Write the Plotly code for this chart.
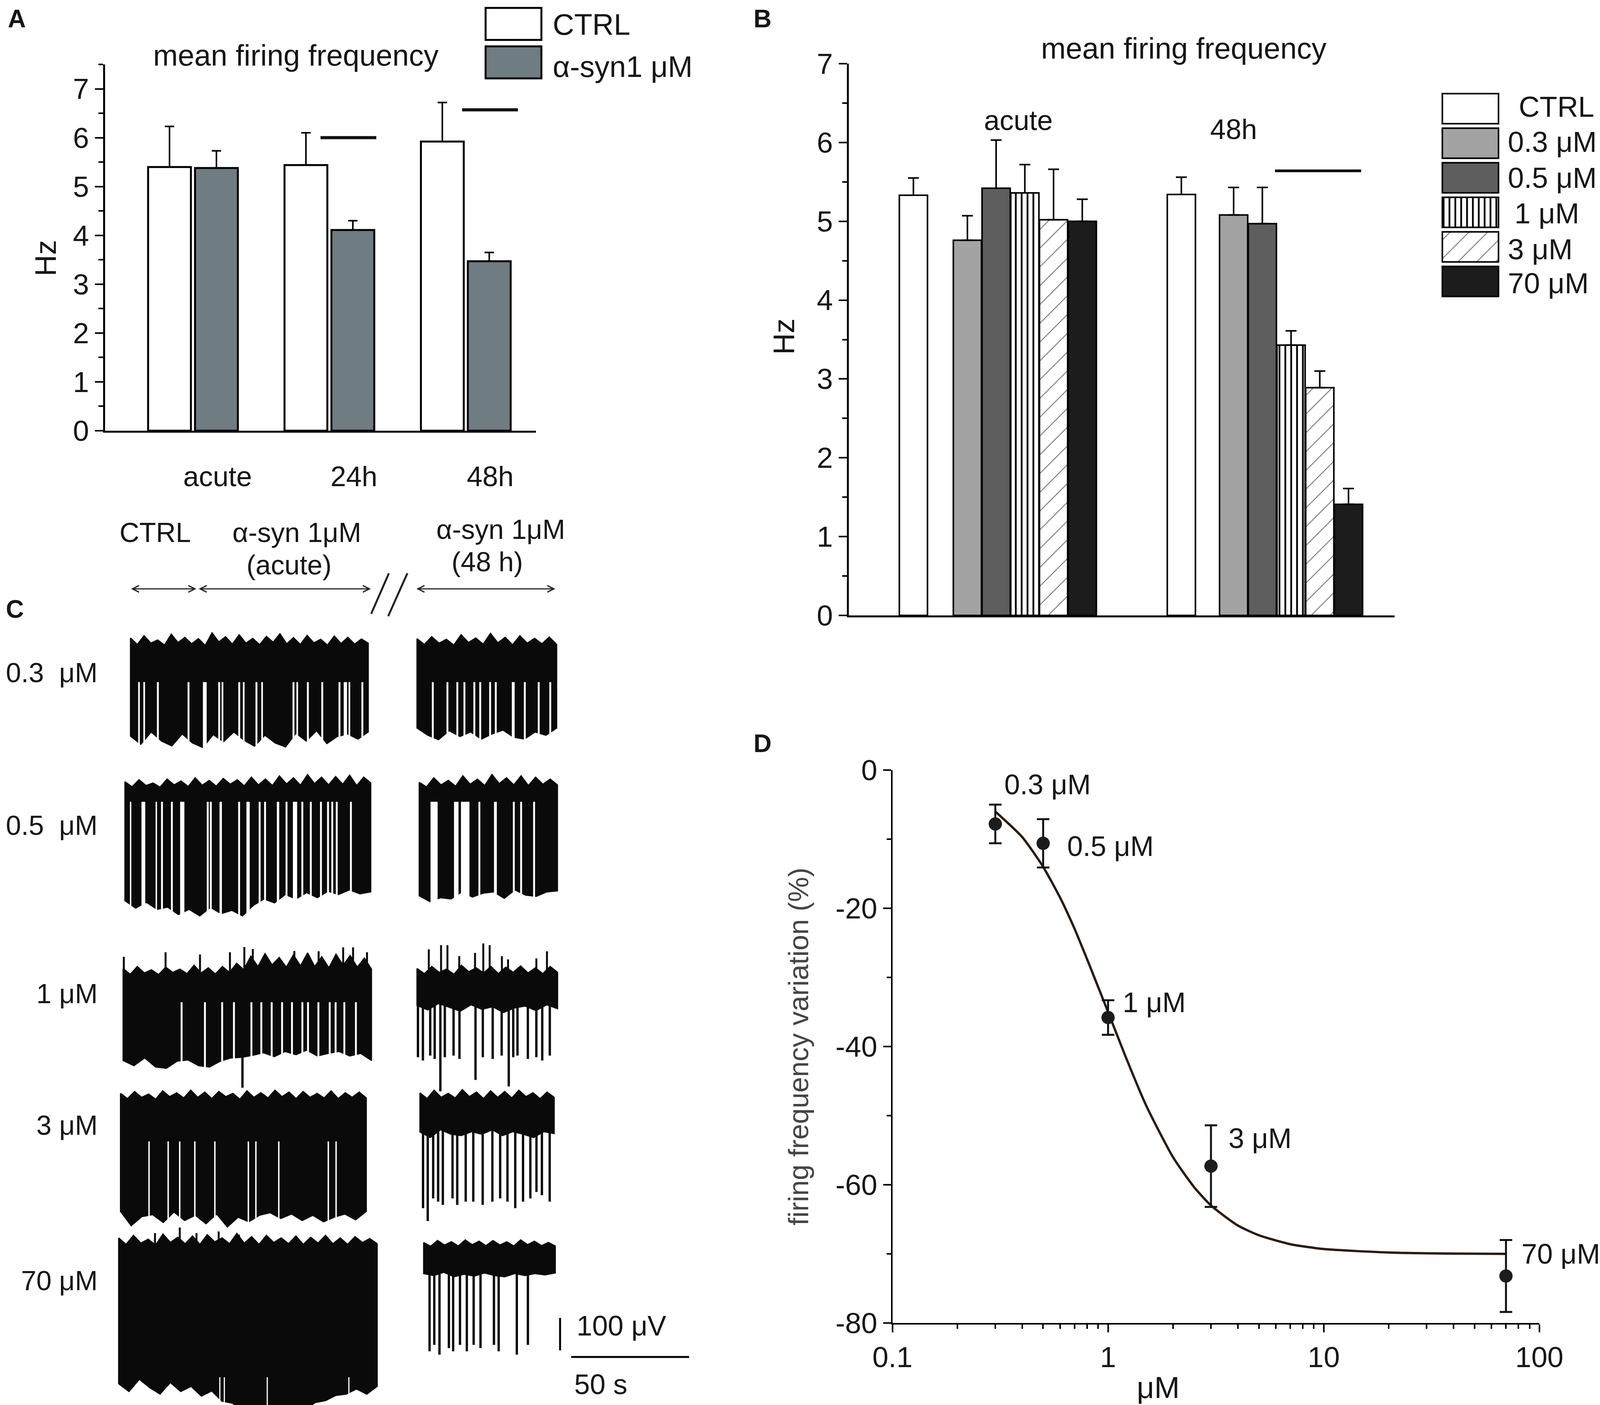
import math
import plotly.graph_objects as go

W, H = 4328, 3598
FONT = "Liberation Sans"
TXT = "#161616"

# ---------------- Panel A : mean firing frequency (Hz) ----------------
A_groups = ["acute", "24h", "48h"]
A_ctrl = [5.40, 5.44, 5.92]
A_ctrl_err = [0.83, 0.66, 0.80]
A_syn = [5.38, 4.11, 3.47]
A_syn_err = [0.35, 0.19, 0.18]
A_sig_y = [6.00, 6.57]

# ---------------- Panel B : mean firing frequency (Hz) ----------------
B_groups = ["acute", "48h"]
B_names = ["CTRL", "0.3 μM", "0.5 μM", "1 μM", "3 μM", "70 μM"]
B_ctrl = [5.33, 5.34]
B_ctrl_err = [0.22, 0.22]
B_c03 = [4.76, 5.08]
B_c03_err = [0.31, 0.35]
B_c05 = [5.42, 4.97]
B_c05_err = [0.61, 0.46]
B_c1 = [5.36, 3.43]
B_c1_err = [0.36, 0.18]
B_c3 = [5.02, 2.89]
B_c3_err = [0.64, 0.21]
B_c70 = [5.00, 1.41]
B_c70_err = [0.28, 0.20]
B_sig_y = 5.64

# ---------------- Panel D : dose-response ----------------
D_conc = [0.3, 0.5, 1, 3, 70]
D_mean = [-7.8, -10.6, -35.8, -57.3, -73.2]
D_err = [2.8, 3.5, 2.5, 5.9, 5.2]
D_labels = ["0.3 μM", "0.5 μM", "1 μM", "3 μM", "70 μM"]
D_fit_x = [0.3, 0.4, 0.5, 0.6, 0.7, 0.8, 0.9, 1.0, 1.2, 1.5, 2, 2.5, 3, 4, 5, 7, 10, 20, 40, 70]
D_fit_y = [-6.0, -9.7, -14.0, -18.5, -23.0, -27.4, -31.4, -35.0, -41.3, -48.5, -56.0, -60.3,
           -63.0, -65.9, -67.3, -68.6, -69.3, -69.8, -69.96, -70.0]

# ---------------- Panel C : extracellular traces (s, μV) ----------------
C_rows = ["0.3  μM", "0.5  μM", "1 μM", "3 μM", "70 μM"]
C_dur_L = [100.8, 104.2, 105.3, 104.2, 109.6]
C_dur_R = [59.2, 58.6, 59.6, 56.9, 55.8]
C_solid_L = [-108, -40, -80, -124, -400]
C_solid_R = [-108, -40, -84, -84, -80]

c03_L_top = [28, 8, 35, 12, 22, 6, 40, 14, 30, 10, 26, 5, 44, 16, 32, 9, 38, 12, 27, 7, 33, 15, 41, 10,
             29, 8, 36, 13, 24, 6, 34, 11, 30, 9, 25, 12]
c03_L_bot = [-275, -300, -262, -290, -305, -268, -296, -310, -270, -292, -262, -288, -306, -272, -296,
             -308, -266, -290, -258, -298, -276, -268, -284, -262]
c03_L_gap_t = [3.6, 5.8, 11.6, 24.6, 31.5, 37.6, 39.0, 46.1, 48.0, 53.4, 55.8, 69.1, 70.7, 75.2, 81.3,
               88.6, 91.1, 92.8, 98.3]
c03_L_gap_w = [0.7, 0.7, 0.8, 0.8, 1.6, 0.8, 0.7, 0.8, 0.7, 0.8, 0.7, 0.8, 0.7, 0.8, 0.8, 0.8, 1.4, 0.7, 0.8]
c03_R_top = [26, 8, 32, 12, 24, 6, 38, 14, 28, 9, 42, 13, 30, 7, 35, 12, 27, 10, 31, 8]
c03_R_bot = [-250, -272, -286, -258, -276, -262, -284, -268, -256, -278, -284, -262, -272, -250]
c03_R_gap_t = [6.7, 12.9, 17.1, 20.1, 24.3, 26.8, 31.0, 33.4, 40.8, 45.7, 51.6, 56.5]
c03_R_gap_w = [0.8, 0.8, 0.8, 0.8, 0.8, 0.8, 0.8, 0.8, 1.2, 0.8, 0.8, 0.8]

c05_L_top = [22, 6, 28, 10, 18, 5, 30, 12, 24, 7, 34, 11, 26, 8, 32, 14, 28, 9, 36, 12, 30, 10, 40, 15,
             34, 11, 44, 16, 36, 12, 38, 14, 42, 10, 36, 18]
c05_L_bot = [-345, -368, -350, -372, -365, -388, -372, -392, -366, -385, -375, -392, -360, -340, -352,
             -326, -340, -320, -336, -316, -326, -312, -324, -318]
c05_L_gap_t = [2.4, 7.8, 13.3, 15.7, 19.9, 24.3, 35.1, 36.4, 40.6, 48.4, 52.2, 57.1, 59.4, 64.9, 68.5,
               72.1, 75.2, 78.8, 83.1, 86.1, 87.9, 89.8, 95.8]
c05_L_gap_w = [0.6, 1.6, 0.6, 0.8, 0.8, 1.8, 0.8, 0.8, 1.0, 0.8, 1.4, 0.8, 0.8, 1.0, 0.8, 1.8, 0.8, 0.8,
               0.8, 0.8, 0.8, 0.8, 0.8]
c05_R_top = [20, 6, 34, 12, 26, 8, 40, 14, 30, 10, 44, 16, 34, 12, 40, 10, 36, 14, 30, 12]
c05_R_bot = [-330, -348, -336, -340, -318, -334, -322, -318, -338, -312, -328, -332, -318, -315]
c05_R_gap_t = [6.3, 15.7, 19.5, 25.5, 32.3, 40.1, 43.2, 48.7]
c05_R_gap_w = [3.0, 1.9, 3.6, 0.8, 1.2, 0.8, 0.8, 0.8]

c1_L_top = [24, 6, 30, 10, 20, 5, 28, 12, 22, 8, 34, 10, 26, 7, 30, 12, 40, 20, 62, 30, 70, 35, 58, 28,
            66, 32, 72, 30, 60, 26, 68, 34, 64, 28, 56, 22]
c1_L_up_t = [0.3, 18.0, 32.6, 45.3, 51.4, 55.0, 72.6, 82.9, 93.3, 97.5, 103.4]
c1_L_up_h = [60, 74, 67, 74, 90, 84, 78, 77, 89, 89, 74]
c1_L_bot = [-260, -276, -252, -280, -284, -262, -258, -276, -280, -262, -252, -250, -244, -236, -248,
            -232, -242, -228, -246, -238, -232, -246, -238, -260]
c1_L_gap_t = [24.8, 34.7, 42.0, 47.0, 54.4, 58.6, 63.0, 67.4, 71.6, 76.0, 78.4, 82.8, 87.6, 90.1, 93.8, 98.7]
c1_L_gap_w = [0.8] * 16
c1_L_spk_t = [50.6]
c1_L_spk_d = [-344]
c1_R_top = [24, 8, 30, 12, 22, 6, 34, 14, 26, 10, 30, 8, 28, 12, 32, 10, 26, 8, 30, 12]
c1_R_up_t = [5.0, 10.2, 12.9, 17.9, 24.6, 28.1, 30.8, 36.0, 38.6, 50.6, 55.1]
c1_R_up_h = [83, 96, 96, 62, 72, 101, 96, 62, 52, 55, 77]
c1_R_bot = [-90, -104, -84, -96, -108, -88, -102, -94, -112, -98, -92, -106, -88, -100]
c1_R_spk_t = [0.4, 2.5, 5.6, 7.5, 9.9, 11.8, 15.5, 18.0, 24.8, 27.9, 32.1, 35.9, 38.9, 40.8, 42.6,
              47.0, 50.6, 53.1, 56.3]
c1_R_spk_d = [-250, -260, -245, -255, -355, -250, -245, -255, -320, -250, -255, -245, -340, -250,
              -245, -255, -250, -260, -245]

c3_L_top = [24, 8, 30, 12, 22, 6, 32, 14, 26, 10, 34, 12, 28, 8, 30, 14, 24, 6, 32, 12, 26, 10, 34, 14,
            28, 8, 30, 12, 24, 10, 32, 8, 26, 12, 28, 10]
c3_L_bot = [-340, -384, -356, -350, -374, -342, -368, -352, -378, -348, -388, -358, -372, -352, -344,
            -362, -348, -368, -352, -372, -358, -348, -366, -340]
c3_L_gap_t = [12.1, 20.2, 25.1, 31.5, 40.0, 54.2, 57.4, 67.1, 88.1, 91.4]
c3_L_gap_w = [0.6] * 10
c3_R_top = [26, 8, 34, 12, 24, 10, 36, 14, 28, 8, 32, 12, 30, 10, 34, 14, 26, 8, 28, 12]
c3_R_bot = [-95, -112, -88, -102, -106, -94, -102, -88, -106, -94, -102, -112, -94, -100]
c3_R_spk_t = [1.3, 3.3, 5.6, 7.7, 9.7, 13.8, 15.8, 19.4, 22.6, 26.6, 30.7, 34.0, 37.1, 40.4, 43.7,
              46.8, 49.4, 51.7, 55.0]
c3_R_spk_d = [-330, -370, -300, -310, -320, -300, -320, -310, -310, -320, -310, -300, -310, -330,
              -310, -300, -280, -290, -310]

c70_L_top = [30, 10, 38, 14, 26, 8, 42, 16, 32, 12, 36, 10, 40, 18, 30, 12, 44, 14, 34, 10, 38, 16, 30, 12,
             36, 10, 32, 14, 38, 12, 30, 10, 34, 16, 28, 12]
c70_L_up_t = [15.4, 25.9, 33.0, 42.4, 51.0]
c70_L_up_h = [45, 62, 45, 50, 40]
c70_L_bot = [-420, -444, -406, -432, -452, -416, -444, -428, -458, -442, -474, -480, -504, -488, -514,
             -492, -508, -488, -502, -478, -472, -456, -452, -436, -452, -428]
c70_L_gap_t = [42.9, 44.8, 63.0, 97.6]
c70_L_gap_w = [0.5, 0.5, 0.5, 0.5]
c70_R_top = [16, 4, 22, 8, 18, 5, 24, 9, 20, 6, 22, 8, 18, 5, 24, 9, 20, 6, 16, 5]
c70_R_bot = [-80, -86, -76, -90, -82, -88, -78, -86, -90, -80, -86, -80, -84, -78]
c70_R_spk_t = [2.5, 4.5, 6.7, 10.7, 12.5, 15.4, 18.3, 21.2, 24.1, 29.8, 31.8, 39.5, 44.2]
c70_R_spk_d = [-320, -300, -330, -310, -320, -300, -320, -300, -310, -300, -320, -330, -300]

SCALE_UV = 100
SCALE_S = 50

# ======================= layout helpers =======================
def fx(px):
    return px / W


def fy(py):
    return 1 - py / H


annotations = []
shapes = []


def ann(text, px, py, size=72, xanchor="center", yanchor="middle", color=TXT, angle=0, bold=False):
    if bold:
        text = "<b>" + text + "</b>"
    annotations.append(dict(text=text, x=fx(px), y=fy(py), xref="paper", yref="paper",
                            xanchor=xanchor, yanchor=yanchor, showarrow=False, textangle=angle,
                            font=dict(family=FONT, size=size, color=color)))


fig = go.Figure()

# ======================= Panel A =======================
A_pos = [0, 1, 2]
A_off, A_bw = 0.172, 0.314
fig.add_trace(go.Bar(x=[p - A_off for p in A_pos], y=A_ctrl, width=A_bw,
                     marker=dict(color="white", line=dict(color="black", width=5)),
                     error_y=dict(type="data", array=A_ctrl_err, arrayminus=[0] * 3, symmetric=False,
                                  color="black", thickness=4, width=12),
                     xaxis="x", yaxis="y"))
fig.add_trace(go.Bar(x=[p + A_off for p in A_pos], y=A_syn, width=A_bw,
                     marker=dict(color="#6f7c82", line=dict(color="black", width=5)),
                     error_y=dict(type="data", array=A_syn_err, arrayminus=[0] * 3, symmetric=False,
                                  color="black", thickness=4, width=12),
                     xaxis="x", yaxis="y"))
A_sig_x0 = [0.935, 1.973]
A_sig_x1 = [1.344, 2.382]
for x0, x1, yv in zip(A_sig_x0, A_sig_x1, A_sig_y):
    fig.add_trace(go.Scatter(x=[x0, x1], y=[yv, yv], mode="lines",
                             line=dict(color="#111", width=8), xaxis="x", yaxis="y"))
for p, g in zip(A_pos, A_groups):
    annotations.append(dict(text=g, x=p + 0.18, y=fy(1178), xref="x", yref="paper", showarrow=False,
                            font=dict(family=FONT, size=72, color=TXT)))

fig.add_trace(go.Bar(y=[0], x=[1], base=0, orientation="h", width=0.83,
                     marker=dict(color="white", line=dict(color="black", width=5)),
                     xaxis="x6", yaxis="y6"))
fig.add_trace(go.Bar(y=[1], x=[1], base=0, orientation="h", width=0.83,
                     marker=dict(color="#6f7c82", line=dict(color="black", width=5)),
                     xaxis="x6", yaxis="y6"))
ann("CTRL", 1493, 62, size=76, xanchor="left")
ann("α-syn1 μM", 1493, 170, size=76, xanchor="left")
ann("mean firing frequency", 800, 142, size=76)
ann("Hz", 123, 661, size=76, angle=-90)
ann("A", 45, 48, size=64, bold=True)

# ======================= Panel B =======================
B_ctrl_pos = [2.25, 11.58]
B_dose_start = [4.13, 13.40]
B_bw = 0.98
B_series = [
    (B_ctrl, B_ctrl_err, dict(color="white")),
    (B_c03, B_c03_err, dict(color="#a3a3a3")),
    (B_c05, B_c05_err, dict(color="#5e5e5e")),
    (B_c1, B_c1_err, dict(color="white", pattern=dict(shape="|", fgcolor="black", bgcolor="white",
                                                       size=15, solidity=0.3))),
    (B_c3, B_c3_err, dict(color="white", pattern=dict(shape="/", fgcolor="#7a7a7a", bgcolor="white",
                                                       size=34, solidity=0.07))),
    (B_c70, B_c70_err, dict(color="#1c1c1c")),
]
for i, (vals, errs, mk) in enumerate(B_series):
    if i == 0:
        xs = B_ctrl_pos
    else:
        xs = [s + (i - 1) for s in B_dose_start]
    m = dict(mk)
    m["line"] = dict(color="black", width=4)
    fig.add_trace(go.Bar(x=xs, y=vals, width=B_bw, marker=m,
                         error_y=dict(type="data", array=errs, arrayminus=[0, 0], symmetric=False,
                                      color="black", thickness=4, width=14),
                         xaxis="x2", yaxis="y2"))
    fig.add_trace(go.Bar(y=[i], x=[1], base=0, orientation="h", width=0.87, marker=m,
                         xaxis="x5", yaxis="y5"))
B_sig_x = [14.84, 17.84]
fig.add_trace(go.Scatter(x=B_sig_x, y=[B_sig_y, B_sig_y], mode="lines",
                         line=dict(color="#111", width=7), xaxis="x2", yaxis="y2"))
annotations.append(dict(text="acute", x=5.9, y=6.28, xref="x2", yref="y2", showarrow=False,
                        font=dict(family=FONT, size=72, color=TXT)))
annotations.append(dict(text="48h", x=13.4, y=6.17, xref="x2", yref="y2", showarrow=False,
                        font=dict(family=FONT, size=72, color=TXT)))
B_leg_y = [274, 364, 455, 546, 638, 726]
B_leg_x = [4106, 4076, 4076, 4094, 4076, 4076]
for name, lx, ly in zip(B_names, B_leg_x, B_leg_y):
    ann(name, lx, ly, size=74, xanchor="left")
ann("mean firing frequency", 3202, 124, size=76)
ann("Hz", 2120, 862, size=76, angle=-90)
ann("B", 2063, 48, size=64, bold=True)

# ======================= Panel C =======================
PX_PER_S = 6.38
PX_PER_UV = 0.83
C_x0px, C_x1px, C_top_px = 300, 1900, 1400


def ct(px):
    return (px - C_x0px) / PX_PER_S


def cv(py):
    return (H - py) / PX_PER_UV


C_row_base = [cv(py) for py in [1657, 2020, 2500, 2820, 3195]]
C_t0_L = [ct(px) for px in [353, 338, 333, 326, 321]]
C_t0_R = [ct(px) for px in [1128, 1134, 1128, 1136, 1146]]

C_traces = [
    (0, "L", c03_L_top, c03_L_bot, c03_L_gap_t, c03_L_gap_w, [], [], [], []),
    (0, "R", c03_R_top, c03_R_bot, c03_R_gap_t, c03_R_gap_w, [], [], [], []),
    (1, "L", c05_L_top, c05_L_bot, c05_L_gap_t, c05_L_gap_w, [], [], [], []),
    (1, "R", c05_R_top, c05_R_bot, c05_R_gap_t, c05_R_gap_w, [], [], [], []),
    (2, "L", c1_L_top, c1_L_bot, c1_L_gap_t, c1_L_gap_w, c1_L_spk_t, c1_L_spk_d, c1_L_up_t, c1_L_up_h),
    (2, "R", c1_R_top, c1_R_bot, [], [], c1_R_spk_t, c1_R_spk_d, c1_R_up_t, c1_R_up_h),
    (3, "L", c3_L_top, c3_L_bot, c3_L_gap_t, c3_L_gap_w, [], [], [], []),
    (3, "R", c3_R_top, c3_R_bot, [], [], c3_R_spk_t, c3_R_spk_d, [], []),
    (4, "L", c70_L_top, c70_L_bot, c70_L_gap_t, c70_L_gap_w, [], [], c70_L_up_t, c70_L_up_h),
    (4, "R", c70_R_top, c70_R_bot, [], [], c70_R_spk_t, c70_R_spk_d, [], []),
]
INK = "#0a0a0a"
for row, side, top, bot, gt, gw, st, sd, ut, uh in C_traces:
    base = C_row_base[row]
    if side == "L":
        t0, dur, solid = C_t0_L[row], C_dur_L[row], C_solid_L[row]
    else:
        t0, dur, solid = C_t0_R[row], C_dur_R[row], C_solid_R[row]
    n, m = len(top), len(bot)
    tt = [t0 + dur * i / (n - 1) for i in range(n)]
    tb = [t0 + dur * i / (m - 1) for i in range(m)]
    xs = tt + tb[::-1] + [tt[0]]
    ys = [base + v for v in top] + [base + v for v in bot[::-1]] + [base + top[0]]
    fig.add_trace(go.Scatter(x=xs, y=ys, mode="lines", fill="toself", fillcolor=INK,
                             line=dict(color=INK, width=3), xaxis="x3", yaxis="y3"))
    if gt:
        low = base + min(bot) - 25
        gx, gy = [], []
        for t, w in zip(gt, gw):
            a, b = t0 + t - w / 2, t0 + t + w / 2
            gx += [a, b, b, a, a, None]
            gy += [base + solid, base + solid, low, low, base + solid, None]
        fig.add_trace(go.Scatter(x=gx, y=gy, mode="lines", fill="toself", fillcolor="white",
                                 line=dict(color="white", width=0), xaxis="x3", yaxis="y3"))
    if st:
        sx, sy = [], []
        for t, d in zip(st, sd):
            sx += [t0 + t, t0 + t, None]
            sy += [base, base + d, None]
        fig.add_trace(go.Scatter(x=sx, y=sy, mode="lines", line=dict(color=INK, width=6),
                                 xaxis="x3", yaxis="y3"))
    if ut:
        ux, uy = [], []
        for t, h in zip(ut, uh):
            ux += [t0 + t, t0 + t, None]
            uy += [base, base + h, None]
        fig.add_trace(go.Scatter(x=ux, y=uy, mode="lines", line=dict(color=INK, width=5),
                                 xaxis="x3", yaxis="y3"))

# scale bars
sb_t = ct(1515)
sb_v0 = cv(3458)
fig.add_trace(go.Scatter(x=[sb_t, sb_t], y=[sb_v0, sb_v0 + SCALE_UV], mode="lines",
                         line=dict(color="black", width=5), xaxis="x3", yaxis="y3"))
sh_t0 = ct(1545)
sh_v = cv(3475)
fig.add_trace(go.Scatter(x=[sh_t0, sh_t0 + SCALE_S], y=[sh_v, sh_v], mode="lines",
                         line=dict(color="black", width=5), xaxis="x3", yaxis="y3"))
ann("100 μV", 1557, 3395, size=72, xanchor="left")
ann("50 s", 1551, 3545, size=72, xanchor="left")

for lbl, py in zip(C_rows, [1723, 2114, 2545, 2882, 3280]):
    ann(lbl, 266, py, size=70, xanchor="right")

ann("CTRL", 420, 1364, size=70)
ann("α-syn 1μM", 803, 1364, size=70)
ann("(acute)", 782, 1447, size=70)
ann("α-syn 1μM", 1355, 1356, size=70)
ann("(48 h)", 1318, 1439, size=70)
for xa, xb in [(353, 531), (536, 1003), (1125, 1502)]:
    annotations.append(dict(x=ct(xb), y=cv(1508), xref="x3", yref="y3", ax=ct(xa), ay=cv(1508),
                            axref="x3", ayref="y3", text="", showarrow=True, arrowhead=5,
                            startarrowhead=5, arrowside="end+start", arrowsize=1.1,
                            startarrowsize=1.1, arrowwidth=3, arrowcolor="#222",
                            standoff=0, startstandoff=0))
for (xa, ya, xb, yb) in [(1052, 1468, 1004, 1572), (1102, 1468, 1050, 1578)]:
    shapes.append(dict(type="line", xref="paper", yref="paper", x0=fx(xa), y0=fy(ya),
                       x1=fx(xb), y1=fy(yb), line=dict(color="#222", width=5)))
ann("C", 40, 1560, size=64, bold=True)

# ======================= Panel D =======================
fig.add_trace(go.Scatter(x=D_fit_x, y=D_fit_y, mode="lines", line=dict(color="#2b1b0e", width=6,
                                                                       shape="spline", smoothing=0.6),
                         xaxis="x4", yaxis="y4"))
fig.add_trace(go.Scatter(x=D_conc, y=D_mean, mode="markers",
                         marker=dict(size=34, color="#1c1c1c"),
                         error_y=dict(type="data", array=D_err, color="#111", thickness=5, width=16),
                         xaxis="x4", yaxis="y4"))
D_lab_x = [0.327, 0.64, 1.16, 3.59, 81.8]
D_lab_y = [-2.1, -11.0, -33.6, -53.3, -70.0]
for t, lx, ly in zip(D_labels, D_lab_x, D_lab_y):
    annotations.append(dict(text=t, x=math.log10(lx), y=ly, xref="x4", yref="y4", xanchor="left",
                            showarrow=False, font=dict(family=FONT, size=72, color=TXT)))
ann("firing frequency variation (%)", 2160, 2680, size=72, angle=-90, color="#454545")
ann("μM", 3133, 3553, size=78)
ann("D", 2063, 1904, size=64, bold=True)

D_minor = [k * 10 ** e for e in (-1, 0, 1) for k in range(2, 10)]

# ======================= axes =======================
tickfont = dict(family=FONT, size=74, color=TXT)
common_y = dict(ticks="outside", ticklen=21, tickwidth=4, tickcolor="black", showline=True,
                linewidth=5, linecolor="black", showgrid=False, zeroline=False, tickfont=tickfont,
                automargin=False)
hidden = dict(visible=False, showgrid=False, zeroline=False, automargin=False)

fig.update_layout(
    template="none",
    width=W, height=H, margin=dict(l=0, r=0, t=0, b=0, pad=0, autoexpand=False),
    paper_bgcolor="white", plot_bgcolor="white", showlegend=False, barmode="overlay",
    hovermode=False,
    xaxis=dict(domain=[fx(284), fx(1450)], range=[-0.645, 2.515], showline=True, linewidth=5,
               linecolor="black", ticks="", showticklabels=False, showgrid=False, zeroline=False,
               anchor="y", automargin=False),
    yaxis=dict(domain=[fy(1103), fy(165)], range=[0, 7.5], tickvals=list(range(8)), anchor="x",
               minor=dict(ticks="outside", ticklen=12, tickwidth=4, tickcolor="black", dtick=0.5,
                          tick0=0, showgrid=False),
               **common_y),
    xaxis2=dict(domain=[fx(2296), fx(3772)], range=[0, 19.0], showline=True, linewidth=5,
                linecolor="black", ticks="", showticklabels=False, showgrid=False, zeroline=False,
                anchor="y2", automargin=False),
    yaxis2=dict(domain=[fy(1576), fy(163)], range=[0, 7], tickvals=list(range(8)), anchor="x2",
                minor=dict(ticks="outside", ticklen=12, tickwidth=4, tickcolor="black", dtick=0.5,
                           tick0=0, showgrid=False),
                **common_y),
    xaxis3=dict(domain=[fx(C_x0px), fx(C_x1px)], range=[0, ct(C_x1px)], anchor="y3", **hidden),
    yaxis3=dict(domain=[0, fy(C_top_px)], range=[0, cv(C_top_px)], anchor="x3", **hidden),
    xaxis4=dict(domain=[fx(2414), fx(4164)], type="log", range=[-1, 2], tickvals=[0.1, 1, 10, 100],
                ticktext=["0.1", "1", "10", "100"], ticks="outside", ticklen=20, tickwidth=4,
                tickcolor="black", showline=True, linewidth=4, linecolor="black", showgrid=False,
                zeroline=False, tickfont=tickfont, anchor="y4", automargin=False,
                minor=dict(tickvals=D_minor, ticks="outside", ticklen=11, tickwidth=4,
                           tickcolor="black", showgrid=False)),
    yaxis4=dict(domain=[fy(3388), fy(1972)], range=[-80, 0], tickvals=[0, -20, -40, -60, -80],
                ticktext=["0", "-20", "-40", "-60", "-80"], anchor="x4", automargin=False,
                minor=dict(tickvals=[-10, -30, -50, -70], ticks="outside", ticklen=11, tickwidth=4,
                           tickcolor="black", showgrid=False),
                ticks="outside", ticklen=20, tickwidth=4, tickcolor="black", showline=True,
                linewidth=4, linecolor="black", showgrid=False, zeroline=False, tickfont=tickfont),
    xaxis5=dict(domain=[fx(3897), fx(4058)], range=[-0.03, 1.03], anchor="y5", **hidden),
    yaxis5=dict(domain=[fy(765), fy(234)], range=[5.5, -0.5], anchor="x5", **hidden),
    xaxis6=dict(domain=[fx(1309), fx(1469)], range=[-0.03, 1.03], anchor="y6", **hidden),
    yaxis6=dict(domain=[fy(209), fy(12)], range=[1.5, -0.5], anchor="x6", **hidden),
    annotations=annotations,
    shapes=shapes,
)

# make the figure fill exactly the browser's visible area (no page margin / scrollbars)
FIT_JS = """
var gd = document.getElementById('{plot_id}');
document.documentElement.style.margin = '0';
document.body.style.margin = '0';
document.documentElement.style.overflow = 'hidden';
document.body.style.overflow = 'hidden';
var w = document.documentElement.clientWidth, h = document.documentElement.clientHeight;
gd.style.width = w + 'px';
gd.style.height = h + 'px';
Plotly.relayout(gd, {width: w, height: h});
"""

fig.write_html("out.html", post_script=FIT_JS, config={"displayModeBar": False, "staticPlot": True})
